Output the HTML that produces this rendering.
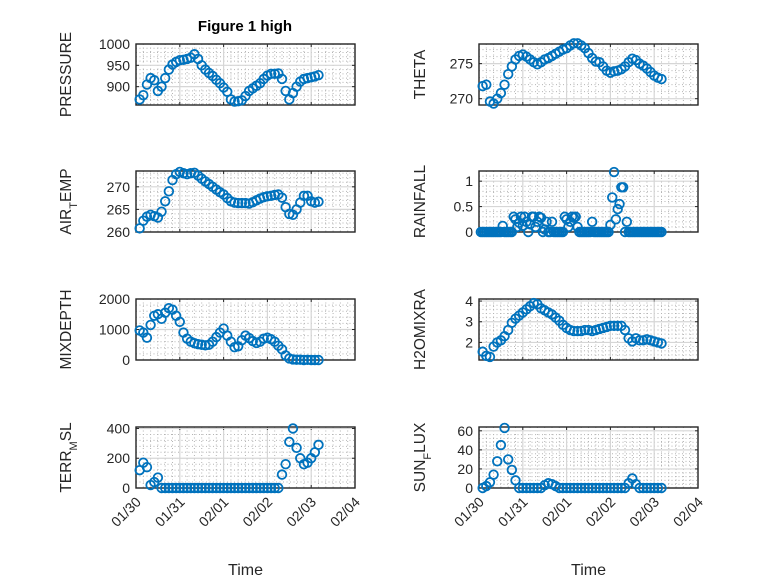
<!DOCTYPE html>
<html><head><meta charset="utf-8">
<style>
body{margin:0;background:#fff;}
svg{display:block;font-family:"Liberation Sans","DejaVu Sans",sans-serif;}
</style></head>
<body>
<svg id="fig" width="778" height="583" viewBox="0 0 778 583">
<rect width="778" height="583" fill="#fff"/>
<text x="245" y="31" text-anchor="middle" font-size="15" font-weight="bold" fill="#000">Figure 1 high</text>
</svg>
<script>
// time axis: hours after 01/30 00:00
const tickLabels = ["01/30","01/31","02/01","02/02","02/03","02/04"];
const hours2 = [];
for (let h = 2; h <= 100; h += 2) hours2.push(h);
const hours1 = [];
for (let h = 1; h <= 100; h += 1) hours1.push(h);

const pressure = [870,880,905,920,915,890,900,920,940,952,958,962,963,965,968,976,965,950,940,932,925,916,908,898,888,870,865,866,868,878,890,896,902,908,918,926,930,930,931,918,890,870,885,900,912,918,920,922,924,927];
const theta = [271.8,272.0,269.6,269.3,270.0,270.8,272.0,273.5,274.6,275.6,276.1,276.3,276.0,275.6,275.2,274.9,275.2,275.6,275.8,276.1,276.4,276.7,277.0,277.2,277.6,277.9,277.9,277.6,277.2,276.5,275.8,275.3,275.2,274.6,274.0,273.7,273.9,274.0,274.2,274.6,275.2,275.7,275.5,275.0,274.7,274.3,273.8,273.3,273.0,272.8];
const airTemp = [260.8,262.5,263.4,263.8,263.5,263.2,264.5,266.8,269.0,271.5,272.8,273.3,273.0,272.8,273.0,273.1,272.5,271.8,271.2,270.6,270.0,269.4,268.8,268.3,267.5,266.8,266.5,266.4,266.4,266.4,266.3,266.6,267.0,267.4,267.7,267.9,268.0,268.2,268.3,267.6,265.5,264.0,263.8,265.0,266.5,268.0,268.0,266.8,266.5,266.7];
const rainfall = [0,0,0,0,0,0,0,0,0,0,0,0,0.12,0,0,0,0,0,0.3,0.25,0.1,0.18,0.3,0.12,0.3,0.2,0,0.15,0.3,0.3,0.1,0.2,0.3,0.28,0,0.05,0.2,0,0,0.2,0,0,0,0,0,0,0.3,0.25,0.1,0.2,0.3,0.28,0.3,0.1,0,0,0,0,0,0,0,0.2,0,0,0,0,0,0,0,0,0,0.14,0.68,1.18,0.25,0.45,0.55,0.88,0.88,0,0.2,0,0,0,0,0,0,0,0,0,0,0,0,0,0,0,0,0,0,0];
const mixDepth = [970,900,730,1150,1450,1500,1350,1550,1700,1650,1450,1250,900,700,600,550,520,500,480,500,600,750,900,1030,800,600,420,450,650,800,720,620,560,600,700,730,680,600,470,350,150,50,20,10,10,0,5,0,0,0];
const h2oMix = [1.55,1.35,1.3,1.8,2.0,2.1,2.3,2.6,2.95,3.15,3.3,3.45,3.6,3.75,3.9,3.85,3.65,3.55,3.45,3.35,3.2,3.05,2.85,2.7,2.6,2.55,2.55,2.55,2.6,2.6,2.55,2.6,2.65,2.7,2.75,2.8,2.8,2.8,2.8,2.6,2.2,2.05,2.2,2.1,2.1,2.15,2.1,2.05,2.0,1.95];
const terrMsl = [120,170,140,20,40,70,0,0,0,0,0,0,0,0,0,0,0,0,0,0,0,0,0,0,0,0,0,0,0,0,0,0,0,0,0,0,0,0,0,90,160,310,400,270,200,160,170,200,240,290];
const sunFlux = [0,2,6,14,28,45,63,30,19,8,0,0,0,0,0,0,0,3,5,4,2,0,0,0,0,0,0,0,0,0,0,0,0,0,0,0,0,0,0,0,5,10,4,0,0,0,0,0,0,0];

const pressureTicks = [900,950,1000];
const thetaTicks = [270,275];
const airTicks = [260,265,270];
const rainTicks = [0,0.5,1];
const mixTicks = [0,1000,2000];
const h2oTicks = [2,3,4];
const terrTicks = [0,200,400];
const sunTicks = [0,20,40,60];

const NS = "http://www.w3.org/2000/svg";
const svg = document.getElementById("fig");
function mk(tag, attrs, parent){
  const e = document.createElementNS(NS, tag);
  for (const k in attrs) e.setAttribute(k, attrs[k]);
  (parent||svg).appendChild(e);
  return e;
}

const panels = [
  {name:"pressure", col:0, row:0, t:hours2, y:pressure, lim:[857,1000], ticks:pressureTicks, label:["PRESSURE"]},
  {name:"theta", col:1, row:0, t:hours2, y:theta, lim:[269.1,277.8], ticks:thetaTicks, label:["THETA"]},
  {name:"air-temp", col:0, row:1, t:hours2, y:airTemp, lim:[260,273.5], ticks:airTicks, label:["AIR","T","EMP"]},
  {name:"rainfall", col:1, row:1, t:hours1, y:rainfall, lim:[0,1.2], ticks:rainTicks, label:["RAINFALL"]},
  {name:"mixdepth", col:0, row:2, t:hours2, y:mixDepth, lim:[0,2000], ticks:mixTicks, label:["MIXDEPTH"]},
  {name:"h2omixra", col:1, row:2, t:hours2, y:h2oMix, lim:[1.15,4.1], ticks:h2oTicks, label:["H2OMIXRA"]},
  {name:"terr-msl", col:0, row:3, t:hours2, y:terrMsl, lim:[0,410], ticks:terrTicks, label:["TERR","M","SL"]},
  {name:"sun-flux", col:1, row:3, t:hours2, y:sunFlux, lim:[0,64], ticks:sunTicks, label:["SUN","F","LUX"]}
];
const colX = [136, 479], colW = 219;
const rowY = [44, 171, 299, 427], rowH = 61;
const labelX = [66, 420];

panels.forEach(p => {
  const x0 = colX[p.col], x1 = x0 + colW, y0 = rowY[p.row], y1 = y0 + rowH;
  const xs = h => x0 + h / 120 * colW;
  const ys = v => y1 - (v - p.lim[0]) / (p.lim[1] - p.lim[0]) * rowH;
  const g = mk("g", {});
  
  
  for (let h = 4; h < 120; h += 4) {
    if (h % 24 === 0) continue;
    mk("line", {x1:xs(h), x2:xs(h), y1:y0, y2:y1, stroke:"#b5b5b5", "stroke-width":1, "stroke-dasharray":"1 2.5"}, g);
  }
  const step = p.ticks[1] - p.ticks[0], ms = step / 5;
  for (let v = Math.ceil(p.lim[0] / ms) * ms; v <= p.lim[1]; v += ms) {
    if (Math.abs(v / step - Math.round(v / step)) < 1e-6) continue;
    mk("line", {x1:x0, x2:x1, y1:ys(v), y2:ys(v), stroke:"#b5b5b5", "stroke-width":1, "stroke-dasharray":"1 2.5"}, g);
  }
  tickLabels.forEach((lab, i) => {
    const x = xs(i * 24);
    mk("line", {x1:x, x2:x, y1:y0, y2:y1, stroke:"#d6d6d6", "stroke-width":1.2}, g);
    mk("line", {x1:x, x2:x, y1:y1, y2:y1 - 3, stroke:"#262626", "stroke-width":1}, g);
    mk("line", {x1:x, x2:x, y1:y0, y2:y0 + 3, stroke:"#262626", "stroke-width":1}, g);
    if (p.row === 3) {
      const t = mk("text", {x:x + 3, y:y1 + 16, "text-anchor":"end", "font-size":14, fill:"#262626", transform:`rotate(-45 ${x + 3} ${y1 + 12})`}, g);
      t.textContent = lab;
      
      
    }
  });
  p.ticks.forEach(v => {
    const y = ys(v);
    mk("line", {x1:x0, x2:x1, y1:y, y2:y, stroke:"#d6d6d6", "stroke-width":1.2}, g);
    mk("line", {x1:x0, x2:x0 + 3, y1:y, y2:y, stroke:"#262626", "stroke-width":1}, g);
    mk("line", {x1:x1, x2:x1 - 3, y1:y, y2:y, stroke:"#262626", "stroke-width":1}, g);
    const t = mk("text", {x:x0 - 6, y:y + 5, "text-anchor":"end", "font-size":14, fill:"#262626"}, g);
    t.textContent = String(v);
    
    
  });
  const box = mk("rect", {x:x0, y:y0, width:colW, height:rowH, fill:"none", stroke:"#262626", "stroke-width":1.4}, g);
  
  
  p.y.forEach((v, i) => {
    const c = mk("circle", {cx:xs(p.t[i]), cy:ys(v), r:4.3, fill:"none", stroke:"#0072BD", "stroke-width":1.8}, g);
    
    
  });
  const cy = (y0 + y1) / 2, lx = labelX[p.col];
  const yl = mk("text", {x:lx, y:cy, "text-anchor":"middle", "font-size":15.5, fill:"#262626", transform:`rotate(-90 ${lx} ${cy})`, dy:"5"}, g);
  
  
  if (p.label.length === 1) {
    yl.textContent = p.label[0];
  } else {
    const a = mk("tspan", {}, yl); a.textContent = p.label[0];
    const b = mk("tspan", {"baseline-shift":"sub", "font-size":11}, yl); b.textContent = p.label[1];
    const c = mk("tspan", {}, yl); c.textContent = p.label[2];
  }
  if (p.row === 3) {
    const xt = mk("text", {x:(x0 + x1) / 2, y:575, "text-anchor":"middle", "font-size":16, fill:"#262626"}, g);
    xt.textContent = "Time";
    
    
  }
});
</script>
</body></html>
